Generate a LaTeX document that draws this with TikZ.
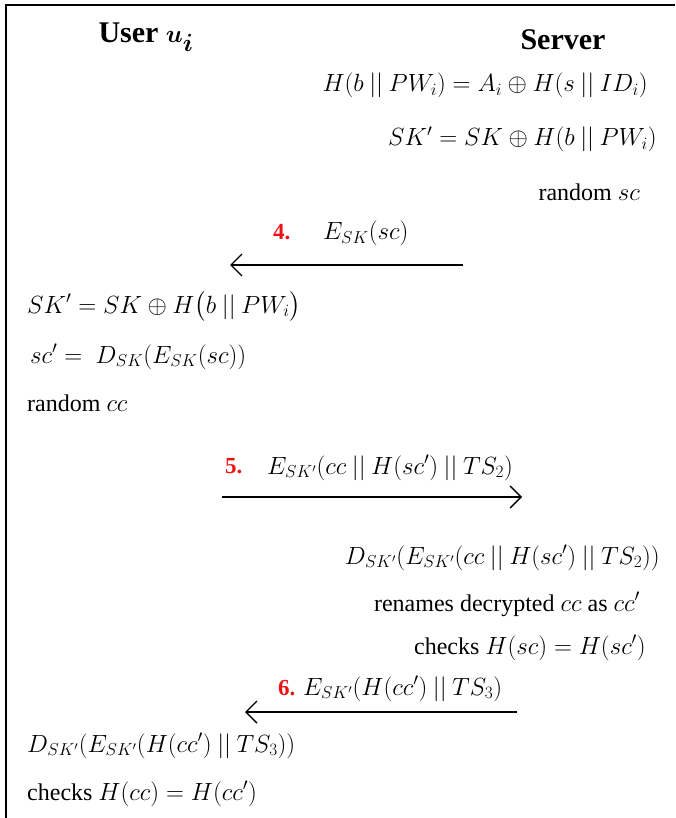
\documentclass[tikz,border=0pt]{standalone}
\usepackage{amsmath}
\usepackage{bm}
\usepackage{fontspec}
\setmainfont{Liberation Serif}
\usetikzlibrary{arrows.meta}
\definecolor{stepred}{RGB}{235,20,20}
\newcommand{\cc}{\mathbin{||}}
\newcommand{\mth}[1]{{\fontsize{26}{30}\selectfont$#1$}}
\tikzset{
  body/.style={font=\fontsize{24}{28}\selectfont, inner sep=0pt},
  head/.style={font=\fontsize{30}{34}\selectfont\bfseries, inner sep=0pt},
  num/.style={font=\fontsize{23}{27}\selectfont\bfseries, text=stepred, inner sep=0pt},
  msg/.style={line width=1.4pt, -{Straight Barb[length=11pt,width=22pt,line width=1.4pt]}},
  frame/.style={line width=2pt}
}
\begin{document}
\begin{tikzpicture}[x=1pt,y=-1pt]
\useasboundingbox (0,0) rectangle (675,818);
% frame
\coordinate (fl) at (6,818);
\coordinate (fc) at (6,5);
\coordinate (fr) at (675,5);
\draw[frame] (fl) -- (fc) -- (fr);
% headings
\node[head, anchor=base] (user) at (146,43) {User {\fontsize{34}{38}\selectfont$\bm{u_i}$}};
\node[head, anchor=base] (server) at (563,50) {Server};
% server side step
\node[body, anchor=base east] (s1) at (648,92) {\mth{H(b \cc PW_i) = A_i \oplus H(s \cc ID_i)}};
\node[body, anchor=base east] (s2) at (657,146) {\mth{SK' = SK \oplus H(b \cc PW_i)}};
\node[body, anchor=base east] (s3) at (640,201) {random \mth{sc}};
% message 4
\node[num, anchor=base west] (n4) at (273,240) {4.};
\node[body, anchor=base west] (m4) at (323,240) {\mth{E_{SK}(sc)}};
\coordinate (a4s) at (463,265);
\coordinate (a4e) at (230,265);
\draw[msg] (a4s) -- (a4e);
% user side
\node[body, anchor=base west] (u1) at (27,313) {\mth{SK' = SK \oplus H\bigl(b \cc PW_i\bigr)}};
\node[body, anchor=base west] (u2) at (30,363) {\mth{sc' =\ D_{SK}(E_{SK}(sc))}};
\node[body, anchor=base west] (u3) at (27,411) {random \mth{cc}};
% message 5
\node[num, anchor=base west] (n5) at (225,473) {5.};
\node[body, anchor=base west] (m5) at (267,474) {\mth{E_{SK'}(cc \cc H(sc') \cc TS_2)}};
\coordinate (a5s) at (222,497);
\coordinate (a5e) at (522,497);
\draw[msg] (a5s) -- (a5e);
% server side
\node[body, anchor=base east] (s4) at (660,564) {\mth{D_{SK'}(E_{SK'}(cc \cc H(sc') \cc TS_2))}};
\node[body, anchor=base east] (s5) at (640,611) {renames decrypted \mth{cc} as \mth{cc'}};
\node[body, anchor=base east] (s6) at (646,654) {checks \mth{H(sc) = H(sc')}};
% message 6
\node[num, anchor=base west] (n6) at (278,695) {6.};
\node[body, anchor=base west] (m6) at (303,695) {\mth{E_{SK'}(H(cc') \cc TS_3)}};
\coordinate (a6s) at (517,712);
\coordinate (a6e) at (245,712);
\draw[msg] (a6s) -- (a6e);
% user side
\node[body, anchor=base west] (u4) at (27,752) {\mth{D_{SK'}(E_{SK'}(H(cc') \cc TS_3))}};
\node[body, anchor=base west] (u5) at (27,800) {checks \mth{H(cc) = H(cc')}};
\end{tikzpicture}
\end{document}
